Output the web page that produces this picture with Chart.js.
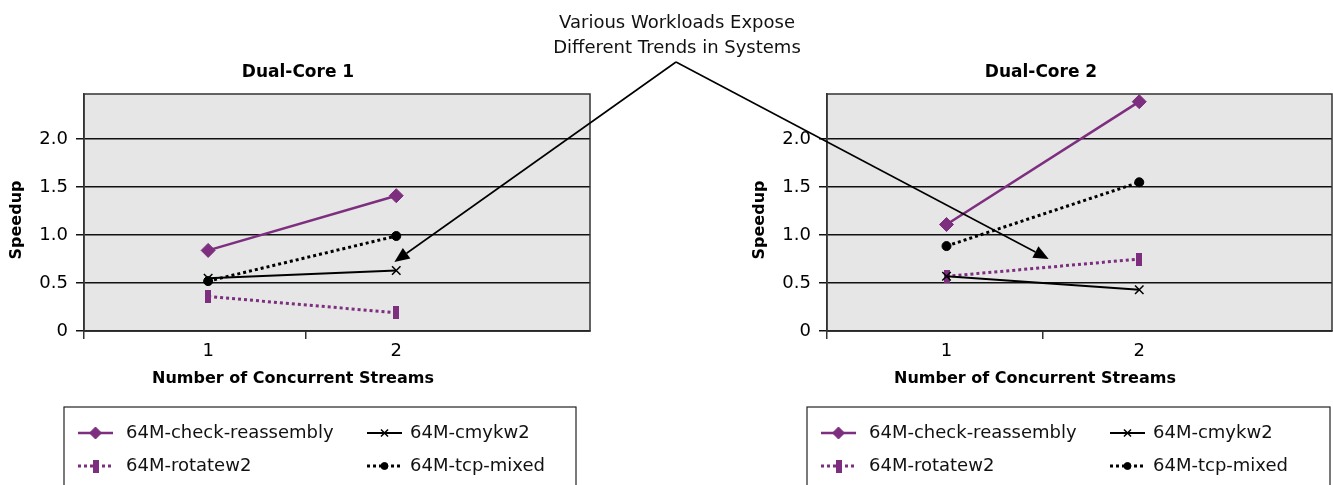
<!DOCTYPE html>
<html>
<head>
<meta charset="utf-8">
<script src="https://cdn.jsdelivr.net/npm/chart.js@4.4.0/dist/chart.umd.min.js"></script>
<style>
  body { margin: 0; background: #fff; width: 1333px; height: 485px; overflow: hidden; position: relative; font-family: "DejaVu Sans", sans-serif; }
  #core1 { position: absolute; left: 0; top: 0; }
  #core2 { position: absolute; left: 749px; top: 0; }
  #arrows { position: absolute; left: 0; top: 0; pointer-events: none; }
  #note { position: absolute; left: 477px; top: 9px; width: 400px; text-align: center; font-size: 18px; line-height: 25px; color: #111; }
</style>
</head>
<body>
<canvas id="core1" width="598" height="485"></canvas>
<canvas id="core2" width="591" height="485"></canvas>
<canvas id="arrows" width="1333" height="485"></canvas>
<div id="note">Various Workloads Expose<br>Different Trends in Systems</div>
<script>
// values
const streams = [1, 2];
const seriesNames = ['64M-check-reassembly', '64M-cmykw2', '64M-rotatew2', '64M-tcp-mixed'];

const core1Check = [0.84, 1.41];
const core1Cmyk = [0.55, 0.63];
const core1Rotate = [0.36, 0.19];
const core1Tcp = [0.52, 0.99];

const core2Check = [1.11, 2.39];
const core2Cmyk = [0.57, 0.43];
const core2Rotate = [0.57, 0.75];
const core2Tcp = [0.885, 1.55];

const yTicks = [0, 0.5, 1.0, 1.5, 2.0];
// where the callout arrows point, in each chart's own units
const arrowTip1 = [1.99, 0.72];
const arrowTip2 = [1.53, 0.75];

const purple = '#7d2e7f';

// vertical bar marker for rotatew2
const bar = document.createElement('canvas');
bar.width = 6; bar.height = 13;
const bctx = bar.getContext('2d');
bctx.fillStyle = purple;
bctx.fillRect(0, 0, 6, 13);

const styles = [
  { color: purple, dash: [], width: 2.5, point: 'rectRot', radius: 7, bw: 1 },
  { color: '#000', dash: [], width: 2, point: 'crossRot', radius: 6, bw: 1.5 },
  { color: purple, dash: [3, 3], width: 3, point: bar, radius: 6, bw: 0 },
  { color: '#000', dash: [3, 3], width: 3, point: 'circle', radius: 4.5, bw: 1 },
];

const makeDatasets = (series) => series.map((vals, i) => ({
  label: seriesNames[i],
  data: streams.map((x, j) => ({ x: x, y: vals[j] })),
  borderColor: styles[i].color,
  backgroundColor: styles[i].color,
  borderWidth: styles[i].width,
  borderDash: styles[i].dash,
  pointStyle: styles[i].point,
  pointRadius: styles[i].radius,
  pointBorderWidth: styles[i].bw,
  pointBackgroundColor: styles[i].color,
  pointBorderColor: styles[i].color,
  tension: 0,
}));

// gray plot area, frame, titles and the boxed legend
const frame = {
  id: 'frame',
  beforeDraw(chart) {
    const { ctx, chartArea: a } = chart;
    ctx.save();
    ctx.fillStyle = '#e6e6e6';
    ctx.fillRect(a.left, a.top, a.right - a.left, a.bottom - a.top);
    ctx.restore();
  },
  beforeDatasetsDraw(chart) {
    const { ctx, chartArea: a } = chart;
    ctx.save();
    ctx.strokeStyle = '#333';
    ctx.lineWidth = 1.5;
    ctx.strokeRect(a.left, a.top, a.right - a.left, a.bottom - a.top);
    ctx.restore();
  },
  afterDraw(chart) {
    const ctx = chart.ctx;
    const o = chart.options.plugins.frame;
    ctx.save();
    ctx.fillStyle = '#000';
    ctx.textAlign = 'center';
    ctx.textBaseline = 'middle';
    ctx.font = 'bold 17px "DejaVu Sans"';
    ctx.fillText(o.title, o.titleX, 73);
    ctx.font = 'bold 16px "DejaVu Sans"';
    ctx.fillText('Number of Concurrent Streams', o.xTitleX, 379);
    ctx.translate(o.yTitleX, 220);
    ctx.rotate(-Math.PI / 2);
    ctx.fillText('Speedup', 0, 0);
    ctx.restore();

    // legend
    ctx.save();
    ctx.strokeStyle = '#222';
    ctx.lineWidth = 1.2;
    ctx.strokeRect(o.boxLeft, 407, o.boxWidth, 120);
    const cols = [[o.boxLeft + 14, o.boxLeft + 62], [o.boxLeft + 303, o.boxLeft + 346]];
    const rows = [433, 466];
    chart.data.datasets.forEach((ds, i) => {
      const s = styles[i];
      const [sx, tx] = cols[i % 2];
      const y = rows[Math.floor(i / 2)];
      ctx.strokeStyle = s.color;
      ctx.fillStyle = s.color;
      ctx.lineWidth = s.width;
      ctx.setLineDash(s.dash);
      ctx.beginPath();
      ctx.moveTo(sx, y);
      ctx.lineTo(sx + 35, y);
      ctx.stroke();
      ctx.setLineDash([]);
      ctx.lineWidth = s.bw;
      Chart.helpers.drawPoint(ctx, { pointStyle: s.point, radius: s.radius - 1, rotation: 0, borderWidth: s.bw }, sx + 17.5, y);
      ctx.fillStyle = '#111';
      ctx.font = '18px "DejaVu Sans"';
      ctx.textAlign = 'left';
      ctx.textBaseline = 'middle';
      ctx.fillText(ds.label, tx, y);
    });
    ctx.restore();
  }
};

const hiddenTick = (v, xr) => streams.includes(v) || v === xr[1];

const makeChart = (id, series, xr, yWidth, frameOpts) => new Chart(document.getElementById(id), {
  type: 'line',
  data: { datasets: makeDatasets(series) },
  plugins: [frame],
  options: {
    responsive: false,
    animation: false,
    layout: { padding: { left: 0, right: 0, top: 94, bottom: 90 } },
    plugins: {
      legend: { display: false },
      tooltip: { enabled: false },
      title: { display: false },
      frame: frameOpts,
    },
    scales: {
      x: {
        type: 'linear',
        min: xr[0],
        max: xr[1],
        afterBuildTicks: (s) => {
          s.ticks = [xr[0], streams[0], xr[2], streams[1], xr[1]].map(v => ({ value: v }));
        },
        afterFit: (s) => { s.height = 64; s.paddingLeft = 0; s.paddingRight = 0; },
        ticks: {
          autoSkip: false,
          maxRotation: 0,
          padding: 2,
          color: '#000',
          font: { family: '"DejaVu Sans"', size: 18 },
          callback: (v) => streams.includes(v) ? String(v) : '',
        },
        grid: {
          drawOnChartArea: false,
          tickLength: 8,
          lineWidth: 1.5,
          color: (c) => c.tick && hiddenTick(c.tick.value, xr) ? 'rgba(0,0,0,0)' : '#333',
        },
        border: { display: true, color: '#000', width: 1.5 },
      },
      y: {
        min: 0,
        max: 2.47,
        afterBuildTicks: (s) => { s.ticks = yTicks.map(v => ({ value: v })); },
        afterFit: (s) => { s.width = yWidth; },
        ticks: {
          padding: 8,
          color: '#000',
          font: { family: '"DejaVu Sans"', size: 18 },
          callback: (v) => v === 0 ? '0' : v.toFixed(1),
        },
        grid: { color: '#111', lineWidth: 1.5, tickLength: 8 },
        border: { display: true, color: '#333', width: 1.5 },
      },
    },
  },
});

const chart1 = makeChart('core1', [core1Check, core1Cmyk, core1Rotate, core1Tcp], [0.34, 3.03, 1.52], 84,
  { title: 'Dual-Core 1', titleX: 298, xTitleX: 293, yTitleX: 17, boxLeft: 64, boxWidth: 512 });
const chart2 = makeChart('core2', [core2Check, core2Cmyk, core2Rotate, core2Tcp], [0.38, 3.0, 1.5], 78,
  { title: 'Dual-Core 2', titleX: 292, xTitleX: 286, yTitleX: 11, boxLeft: 58, boxWidth: 523 });

// callout arrows
const actx = document.getElementById('arrows').getContext('2d');
const apex = [676, 62];
const drawArrow = (x1, y1) => {
  const [x0, y0] = apex;
  const ang = Math.atan2(y1 - y0, x1 - x0);
  const len = 15, half = 6.5;
  actx.strokeStyle = '#000';
  actx.fillStyle = '#000';
  actx.lineWidth = 1.6;
  actx.beginPath();
  actx.moveTo(x0, y0);
  actx.lineTo(x1 - Math.cos(ang) * len, y1 - Math.sin(ang) * len);
  actx.stroke();
  const bx = x1 - Math.cos(ang) * len, by = y1 - Math.sin(ang) * len;
  actx.beginPath();
  actx.moveTo(x1, y1);
  actx.lineTo(bx + Math.sin(ang) * half, by - Math.cos(ang) * half);
  actx.lineTo(bx - Math.sin(ang) * half, by + Math.cos(ang) * half);
  actx.closePath();
  actx.fill();
};
drawArrow(chart1.scales.x.getPixelForValue(arrowTip1[0]), chart1.scales.y.getPixelForValue(arrowTip1[1]));
drawArrow(749 + chart2.scales.x.getPixelForValue(arrowTip2[0]), chart2.scales.y.getPixelForValue(arrowTip2[1]));
</script>
</body>
</html>
